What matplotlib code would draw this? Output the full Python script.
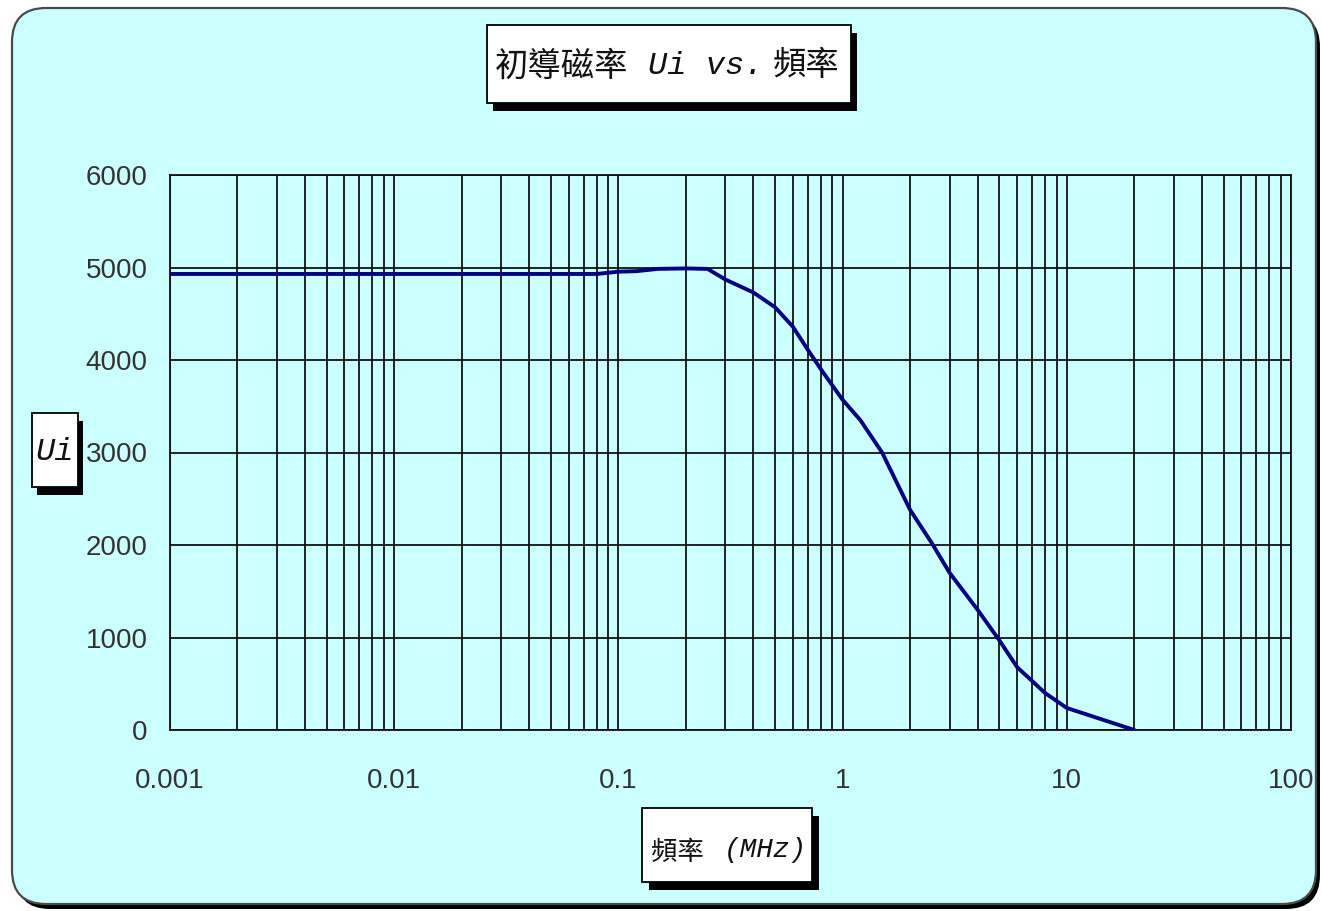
import matplotlib
matplotlib.use("Agg")
import matplotlib.pyplot as plt
from matplotlib.patches import FancyBboxPatch, Rectangle
from matplotlib.ticker import FixedLocator, FixedFormatter, LogLocator, NullFormatter

# ---- data ----
freq_mhz = [0.001, 0.01, 0.08, 0.1, 0.12, 0.15, 0.2, 0.25, 0.3, 0.4, 0.5, 0.6,
            0.7, 0.8, 1.0, 1.2, 1.5, 2.0, 2.5, 3.0, 4.0, 5.0, 6.0, 8.0, 10.0, 20.0]
ui_values = [4930, 4930, 4930, 4955, 4960, 4985, 4990, 4985, 4870, 4730, 4570, 4360,
             4110, 3900, 3570, 3350, 3000, 2380, 2020, 1700, 1300, 970, 680, 400, 238, 0]
x_ticks = [0.001, 0.01, 0.1, 1, 10, 100]
x_tick_labels = ["0.001", "0.01", "0.1", "1", "10", "100"]
y_ticks = [0, 1000, 2000, 3000, 4000, 5000, 6000]
y_tick_labels = ["0", "1000", "2000", "3000", "4000", "5000", "6000"]

W, H = 1322, 911
BG = "#CCFFFF"
fig = plt.figure(figsize=(W / 100, H / 100), dpi=100)
fig.patch.set_facecolor("white")

# background axes in pixel coordinates
bg = fig.add_axes([0, 0, 1, 1], zorder=0)
bg.set_xlim(0, W)
bg.set_ylim(H, 0)
bg.axis("off")

# outer rounded frame with shadow
bg.add_patch(FancyBboxPatch((16, 13), 1304, 896, boxstyle="round,pad=0,rounding_size=34",
                            facecolor="black", edgecolor="black", lw=0))
bg.add_patch(FancyBboxPatch((12, 8), 1304, 896, boxstyle="round,pad=0,rounding_size=34",
                            facecolor=BG, edgecolor="#4a4a4a", lw=1.6))


def shadow_box(x0, y0, x1, y1, dx, dy):
    bg.add_patch(Rectangle((x0 + dx, y0 + dy), x1 - x0, y1 - y0, facecolor="black", lw=0))
    bg.add_patch(Rectangle((x0, y0), x1 - x0, y1 - y0, facecolor="white",
                           edgecolor="black", lw=1.3))


# title box
shadow_box(487, 25, 851, 103, 6, 8)
cjk = ["Noto Sans CJK TC", "DejaVu Sans"]
mono = ["Liberation Mono", "DejaVu Sans Mono"]
bg.text(562, 66, "初導磁率", family=cjk, fontsize=24, weight="medium",
        ha="center", va="center", color="#111111")
bg.text(706, 66, "Ui vs.", family=mono, fontsize=23, style="italic",
        ha="center", va="center", color="#111111")
bg.text(806, 66, "頻率", family=cjk, fontsize=24, weight="medium",
        ha="center", va="center", color="#111111")

# y label box
shadow_box(32, 413, 78, 487, 5, 8)
bg.text(55, 452, "Ui", family=mono, fontsize=23, style="italic",
        ha="center", va="center", color="#111111")

# x label box
shadow_box(642, 808, 812, 882, 7, 8)
bg.text(677, 852, "頻率", family=cjk, fontsize=19, weight="medium",
        ha="center", va="center", color="#111111")
bg.text(765, 850, "(MHz)", family=mono, fontsize=20, style="italic",
        ha="center", va="center", color="#111111")

# main axes
left, right, top, bottom = 170, 1291, 175, 730
ax = fig.add_axes([left / W, 1 - bottom / H, (right - left) / W, (bottom - top) / H], zorder=1)
ax.set_facecolor("none")
ax.set_xscale("log")
ax.set_xlim(0.001, 100)
ax.set_ylim(0, 6000)

ax.plot(freq_mhz, ui_values, color="#000080", lw=2.8, solid_capstyle="round",
        solid_joinstyle="round", zorder=3)

ax.xaxis.set_major_locator(FixedLocator(x_ticks))
ax.xaxis.set_major_formatter(FixedFormatter(x_tick_labels))
ax.xaxis.set_minor_locator(LogLocator(base=10, subs=[2, 3, 4, 5, 6, 7, 8, 9], numticks=20))
ax.xaxis.set_minor_formatter(NullFormatter())
ax.yaxis.set_major_locator(FixedLocator(y_ticks))
ax.yaxis.set_major_formatter(FixedFormatter(y_tick_labels))

ax.grid(True, which="major", axis="both", color="#111111", lw=1.3)
ax.grid(True, which="minor", axis="x", color="#111111", lw=1.3)
ax.set_axisbelow(True)
for s in ax.spines.values():
    s.set_color("#111111")
    s.set_linewidth(1.3)

tick_font = ["Liberation Sans Narrow", "Liberation Sans", "DejaVu Sans"]
ax.tick_params(axis="both", which="both", length=0)
ax.tick_params(axis="x", pad=27)
ax.tick_params(axis="y", pad=16)
for lbl in ax.get_xticklabels() + ax.get_yticklabels():
    lbl.set_family(tick_font)
    lbl.set_fontsize(20)
    lbl.set_color("#333333")

fig.savefig("out.png", dpi=100, facecolor="white")
